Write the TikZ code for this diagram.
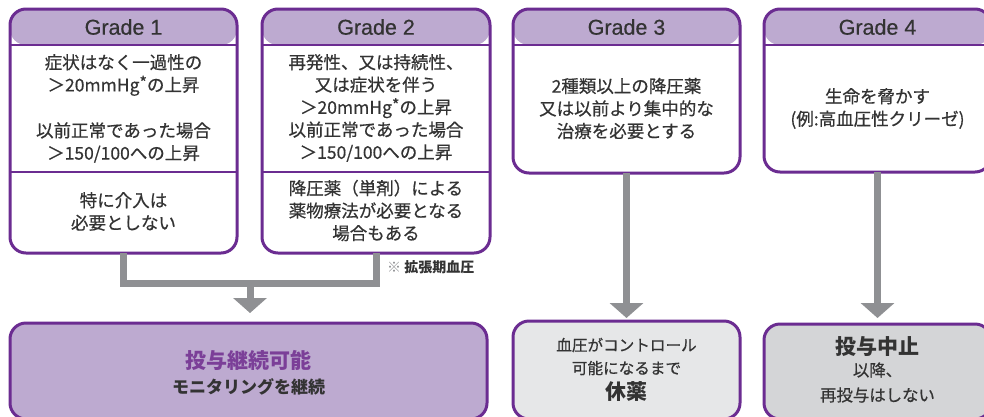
\documentclass[tikz,border=0pt]{standalone}
\usepackage{fontspec}
\setmainfont{Liberation Sans}
\newfontfamily\jp[FakeBold=0.6]{Noto Sans CJK JP}
\newfontfamily\jpb{Noto Sans CJK JP}
\newfontfamily\hdrfont[FakeBold=0.5]{Liberation Sans}
\usetikzlibrary{arrows.meta}
\definecolor{pborder}{HTML}{6B2C91}
\definecolor{hfill}{HTML}{BDAAD0}
\definecolor{lgray}{HTML}{E6E7E8}
\definecolor{mgray}{HTML}{D4D5D7}
\definecolor{conngray}{HTML}{8F9093}
\definecolor{txt}{HTML}{333333}
\definecolor{ptxt}{HTML}{7B3F98}
\tikzset{
  gradebox/.style={draw=pborder, line width=3pt, rounded corners=16pt, inner sep=0pt, outer sep=0pt,
    path picture={\fill[hfill] (path picture bounding box.north west) rectangle ([yshift=-36pt]path picture bounding box.north east);
      \draw[pborder, line width=1.5pt] ([yshift=-36pt]path picture bounding box.north west) -- ([yshift=-36pt]path picture bounding box.north east);}},
  resbox/.style={draw=pborder, line width=3pt, rounded corners=16pt, inner sep=0pt, outer sep=0pt},
  hdr/.style={font=\hdrfont\fontsize{21.5}{23}\selectfont, text=txt},
  body/.style={font=\jp\fontsize{17.5}{22.5}\selectfont, text=txt, align=center, inner sep=0pt},
  divline/.style={draw=pborder, line width=2pt},
  conn/.style={draw=conngray, line width=7pt, line join=miter},
  arr/.style={conn, -{Triangle[width=33pt,length=15pt]}},
}
\newcommand{\dast}{{\fontsize{16}{16}\selectfont\raisebox{3pt}{*}}}
\begin{document}
\begin{tikzpicture}[x=1pt,y=-1pt]
\useasboundingbox (0,0) rectangle (984,416);
\clip (0,0) rectangle (984,416);
\fill[white] (0,0) rectangle (984,416);

% grade boxes
\node[gradebox, minimum width=227pt, minimum height=244pt] (g1) at (123.5,131) {};
\node[gradebox, minimum width=228pt, minimum height=244pt] (g2) at (376,131) {};
\node[gradebox, minimum width=227pt, minimum height=164pt] (g3) at (626.5,91) {};
\node[gradebox, minimum width=227pt, minimum height=163pt] (g4) at (877.5,90.5) {};

\draw[divline] (10,172) -- (237,172);
\draw[divline] (262,172) -- (490,172);

% headers
\node[hdr] (g1h) at (123.5,27) {Grade 1};
\node[hdr] (g2h) at (376,27) {Grade 2};
\node[hdr] (g3h) at (626.5,27) {Grade 3};
\node[hdr] (g4h) at (877.5,27) {Grade 4};

% grade texts
\node[body] (g1a) at (123.5,75) {症状はなく一過性の\\＞20mmHg\dast の上昇};
\node[body] (g1b) at (123.5,142.5) {以前正常であった場合\\＞150/100への上昇};
\node[body] (g1c) at (123.5,211.5) {特に介入は\\必要としない};

\node[body] (g2a) at (376,108) {再発性、又は持続性、\\又は症状を伴う\\＞20mmHg\dast の上昇\\以前正常であった場合\\＞150/100への上昇};
\node[body] (g2b) at (376,210.5) {降圧薬（単剤）による\\薬物療法が必要となる\\場合もある};

\node[body] (g3a) at (626.5,108.5) {2種類以上の降圧薬\\又は以前より集中的な\\治療を必要とする};
\node[body] (g4a) at (877.5,108.5) {生命を脅かす\\(例:高血圧性クリーゼ)};

\node[anchor=west, inner sep=0pt, font=\jpb\bfseries\fontsize{14}{16}\selectfont, text=txt] (fn) at (387,267) {{\color{conngray}※} 拡張期血圧};

% result boxes
\node[resbox, fill=hfill, minimum width=477pt, minimum height=96pt] (b1) at (248.5,371) {};
\node[resbox, fill=lgray, minimum width=227pt, minimum height=98pt] (b3) at (626.5,370) {};
\node[resbox, fill=mgray, minimum width=227pt, minimum height=95pt] (b4) at (877.5,371.5) {};

\node[inner sep=0pt, font=\jpb\bfseries\fontsize{21}{24}\selectfont, text=ptxt] (b1a) at (248.5,360) {投与継続可能};
\node[inner sep=0pt, font=\jpb\bfseries\fontsize{17}{20}\selectfont, text=txt] (b1b) at (248.5,387) {モニタリングを継続};

\node[body, font=\jp\fontsize{15.6}{23}\selectfont] (b3a) at (626.5,356.5) {血圧がコントロール\\可能になるまで};
\node[inner sep=0pt, font=\jpb\bfseries\fontsize{21}{24}\selectfont, text=txt] (b3b) at (626.5,392) {休薬};

\node[inner sep=0pt, font=\jpb\bfseries\fontsize{21}{24}\selectfont, text=txt] (b4a) at (877.5,347) {投与中止};
\node[body, font=\jp\fontsize{16.4}{25}\selectfont] (b4b) at (877.5,382.5) {以降、\\再投与はしない};

% connectors
\coordinate (j) at (250,283);
\draw[conn] (g1.south) |- (j) -| (g2.south);
\draw[arr, shorten >=10pt] (j) -- (b1.north -| j);
\draw[arr, shorten >=3pt] (g3.south) -- (b3.north);
\draw[arr, shorten >=6pt] (g4.south) -- (b4.north);
\end{tikzpicture}
\end{document}
